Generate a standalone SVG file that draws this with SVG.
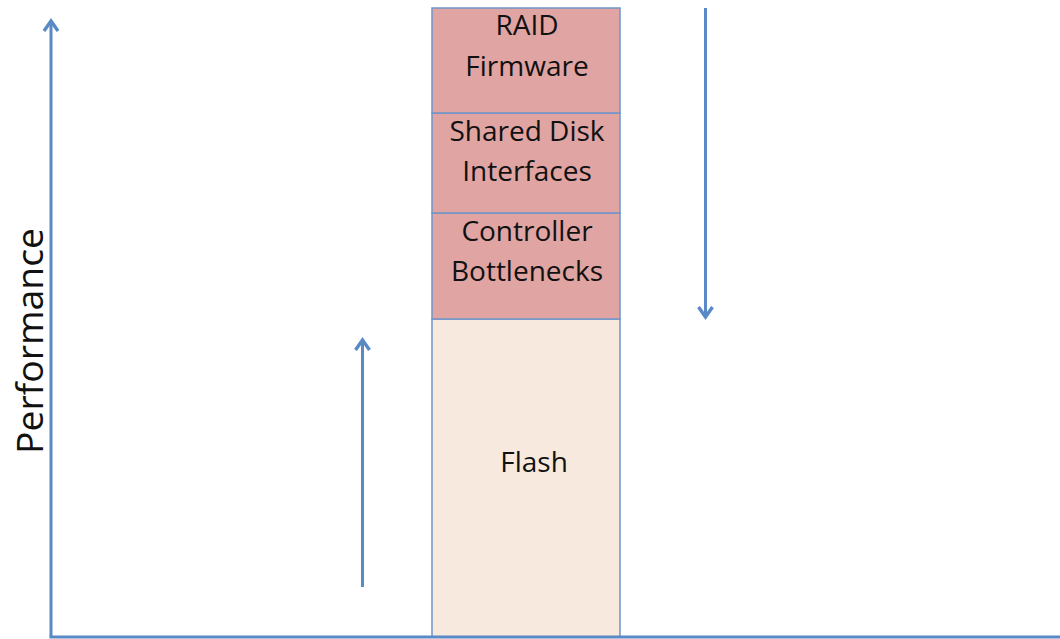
<svg xmlns="http://www.w3.org/2000/svg" width="1060" height="639" viewBox="0 0 1060 639">
  <style>
    .axis { stroke: #5a8ac6; stroke-width: 3; fill: none; }
    .layer { fill: #e0a4a3; stroke: #6f95c9; stroke-width: 1.5; }
    .base { fill: #f8e9df; stroke: #6f95c9; stroke-width: 1.5; }
    .lbl { font-family: "Open Sans", "Liberation Sans", sans-serif; font-size: 28px; fill: #111; text-anchor: middle; }
  </style>
  <defs>
    <marker id="head" viewBox="0 0 16 18" refX="12" refY="9" markerWidth="16" markerHeight="18" markerUnits="userSpaceOnUse" orient="auto">
      <path d="M2,2 L12,9 L2,16" fill="none" stroke="#5a8ac6" stroke-width="3.4" stroke-linejoin="miter"/>
    </marker>
  </defs>

  <!-- stacked storage layers -->
  <g id="flash">
    <rect class="base" x="432" y="319" width="188" height="318"/>
    <text class="lbl" x="534" y="472">Flash</text>
  </g>
  <g id="controller">
    <rect class="layer" x="432" y="213" width="188" height="106"/>
    <text class="lbl" x="527" y="241">Controller</text>
    <text class="lbl" x="527" y="281">Bottlenecks</text>
  </g>
  <g id="shared-disk">
    <rect class="layer" x="432" y="113" width="188" height="100"/>
    <text class="lbl" x="527" y="141">Shared Disk</text>
    <text class="lbl" x="527" y="181">Interfaces</text>
  </g>
  <g id="raid">
    <rect class="layer" x="432" y="8" width="188" height="105"/>
    <text class="lbl" x="527" y="35">RAID</text>
    <text class="lbl" x="527" y="76">Firmware</text>
  </g>

  <!-- axes and trend arrows -->
  <g id="connectors">
    <path class="axis" d="M51,637 L51,21" marker-end="url(#head)"/>
    <path class="axis" d="M49.5,637 L1060,637"/>
    <path class="axis" d="M362.5,587 L362.5,340" marker-end="url(#head)"/>
    <path class="axis" d="M705.5,8 L705.5,317" marker-end="url(#head)"/>
  </g>

  <g id="y-label">
    <text font-family="'Open Sans', 'Liberation Sans', sans-serif" font-size="36" fill="#111" text-anchor="middle" textLength="226" lengthAdjust="spacingAndGlyphs" transform="translate(43,341) rotate(-90)">Performance</text>
  </g>
</svg>
